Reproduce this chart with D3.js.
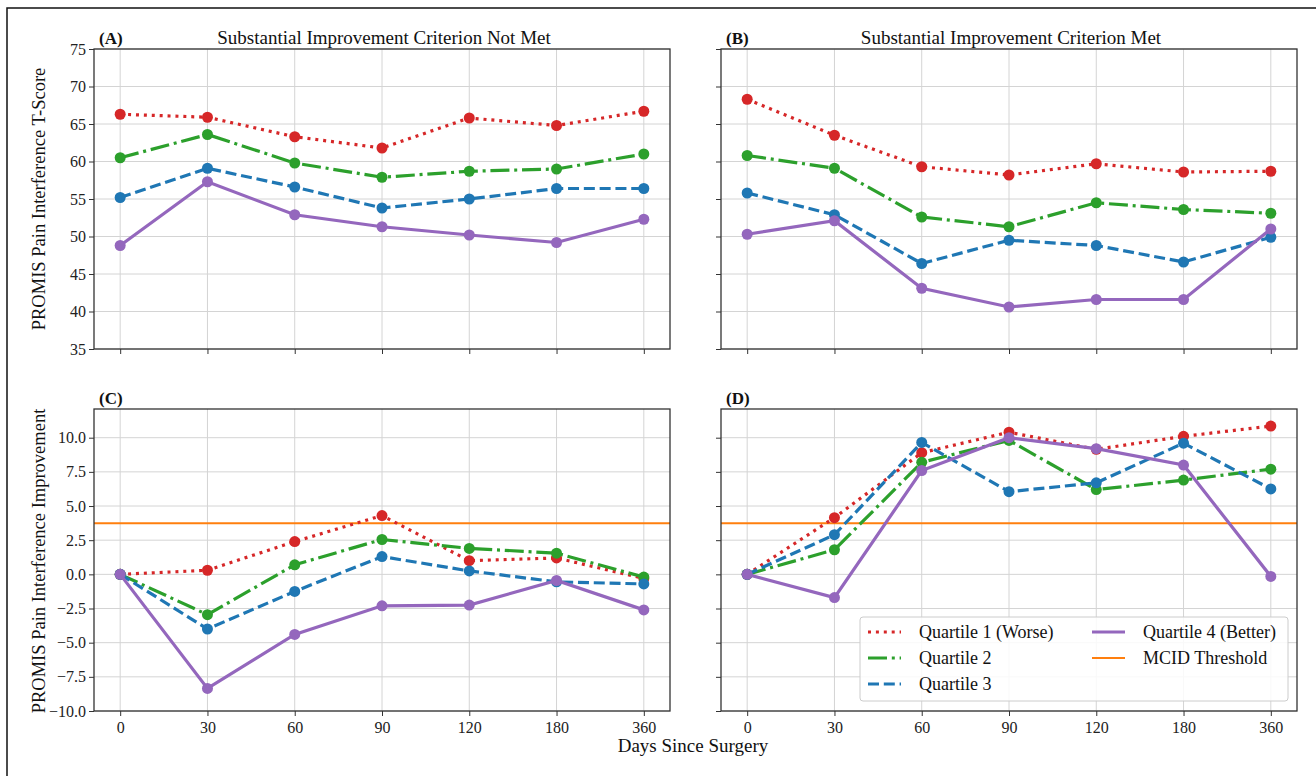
<!DOCTYPE html>
<html>
<head>
<meta charset="utf-8">
<script src="https://cdn.jsdelivr.net/npm/d3@7"></script>
<style>
  body { margin: 0; background: #fff; }
  svg { font-family: "Liberation Serif", "DejaVu Serif", serif; }
  .grid line { stroke: #d4d4d4; stroke-width: 1; }
</style>
</head>
<body>
<svg id="fig" width="1316" height="776"></svg>
<script>
// days after surgery (evenly spaced categories)
var days = ["0", "30", "60", "90", "120", "180", "360"];
var quartiles = ["Quartile 1 (Worse)", "Quartile 2", "Quartile 3", "Quartile 4 (Better)"];

// (A) T-score, criterion not met
var notMetQ1 = [66.3, 65.9, 63.3, 61.8, 65.8, 64.8, 66.7];
var notMetQ2 = [60.5, 63.6, 59.8, 57.9, 58.7, 59.0, 61.0];
var notMetQ3 = [55.2, 59.1, 56.6, 53.8, 55.0, 56.4, 56.4];
var notMetQ4 = [48.8, 57.3, 52.9, 51.3, 50.2, 49.2, 52.3];

// (B) T-score, criterion met
var metQ1 = [68.3, 63.5, 59.3, 58.2, 59.7, 58.6, 58.7];
var metQ2 = [60.8, 59.1, 52.6, 51.3, 54.5, 53.6, 53.1];
var metQ3 = [55.8, 52.9, 46.4, 49.5, 48.8, 46.6, 49.9];
var metQ4 = [50.3, 52.1, 43.1, 40.6, 41.6, 41.6, 51.0];

// (C) improvement, criterion not met
var notMetImpQ1 = [0, 0.3, 2.4, 4.3, 1.0, 1.2, -0.3];
var notMetImpQ2 = [0, -2.95, 0.7, 2.55, 1.9, 1.55, -0.2];
var notMetImpQ3 = [0, -4.0, -1.25, 1.3, 0.25, -0.55, -0.7];
var notMetImpQ4 = [0, -8.35, -4.4, -2.3, -2.25, -0.45, -2.6];

// (D) improvement, criterion met
var metImpQ1 = [0, 4.15, 8.9, 10.4, 9.15, 10.1, 10.85];
var metImpQ2 = [0, 1.8, 8.2, 9.8, 6.2, 6.9, 7.7];
var metImpQ3 = [0, 2.9, 9.65, 6.05, 6.7, 9.6, 6.25];
var metImpQ4 = [0, -1.7, 7.6, 10.0, 9.2, 8.0, -0.15];

var mcid = 3.74;

var tScoreTicks = [35, 40, 45, 50, 55, 60, 65, 70, 75];
var improvementTicks = [-10, -7.5, -5, -2.5, 0, 2.5, 5, 7.5, 10];

var colors = ["#d62728", "#2ca02c", "#1f77b4", "#9467bd"];
var dashes = ["3,4.9", "19,4.8,3,4.8", "11,4.8", null];
var mcidColor = "#ff7f0e";
var serif = "'Liberation Serif', 'DejaVu Serif', serif";

var svg = d3.select("#fig");

// outer frame of the figure
svg.append("path")
  .attr("d", "M7,780V8H1320")
  .attr("fill", "none")
  .attr("stroke", "#111")
  .attr("stroke-width", 1.5);

function panel(opt) {
  var x = d3.scalePoint().domain(days).range([opt.left, opt.right]).padding(0.3);
  var y = d3.scaleLinear().domain(opt.yDomain).range([opt.bottom, opt.top]);
  var g = svg.append("g");

  // grid
  g.append("g").attr("class", "grid")
    .selectAll("line.v").data(days).enter().append("line")
      .attr("x1", function(d) { return x(d); }).attr("x2", function(d) { return x(d); })
      .attr("y1", opt.top).attr("y2", opt.bottom);
  g.append("g").attr("class", "grid")
    .selectAll("line.h").data(opt.ticks).enter().append("line")
      .attr("x1", opt.left).attr("x2", opt.right)
      .attr("y1", function(d) { return y(d); }).attr("y2", function(d) { return y(d); });

  if (opt.mcid != null) {
    g.append("line")
      .attr("x1", opt.left).attr("x2", opt.right)
      .attr("y1", y(opt.mcid)).attr("y2", y(opt.mcid))
      .attr("stroke", mcidColor).attr("stroke-width", 2);
  }

  var line = d3.line()
    .x(function(d, i) { return x(days[i]); })
    .y(function(d) { return y(d); });

  opt.series.forEach(function(s, k) {
    g.append("path").datum(s)
      .attr("d", line)
      .attr("fill", "none")
      .attr("stroke", colors[k])
      .attr("stroke-width", 3.2)
      .attr("stroke-dasharray", dashes[k]);
    g.selectAll("circle.q" + k).data(s).enter().append("circle")
      .attr("class", "q" + k)
      .attr("cx", function(d, i) { return x(days[i]); })
      .attr("cy", function(d) { return y(d); })
      .attr("r", 5.5)
      .attr("fill", colors[k]);
  });

  // axes
  var xAxis = d3.axisBottom(x).tickSize(5).tickSizeOuter(0);
  if (!opt.xLabels) xAxis.tickFormat("");
  var gx = g.append("g")
    .attr("transform", "translate(0," + opt.bottom + ")")
    .call(xAxis)
    .attr("font-family", serif).attr("font-size", 16);
  gx.select(".domain").remove();
  gx.selectAll(".tick line").attr("stroke", "#333");
  gx.selectAll(".tick text").attr("dy", "0.85em").attr("fill", "#222");

  var yAxis = d3.axisLeft(y).tickValues(opt.ticks).tickSize(5).tickFormat(opt.fmt);
  if (!opt.yLabels) yAxis.tickFormat("");
  var gy = g.append("g")
    .attr("transform", "translate(" + opt.left + ",0)")
    .call(yAxis)
    .attr("font-family", serif).attr("font-size", 16);
  gy.select(".domain").remove();
  gy.selectAll(".tick line").attr("stroke", "#333");
  gy.selectAll(".tick text").attr("fill", "#222");

  g.append("rect")
    .attr("x", opt.left).attr("y", opt.top)
    .attr("width", opt.right - opt.left).attr("height", opt.bottom - opt.top)
    .attr("fill", "none").attr("stroke", "#333").attr("stroke-width", 1.3);

  g.append("text")
    .attr("x", opt.left + 5).attr("y", opt.top - 5)
    .attr("font-size", 17).attr("font-weight", "bold").attr("fill", "#111")
    .text(opt.tag);

  if (opt.title) {
    g.append("text")
      .attr("x", (opt.left + opt.right) / 2 + 2).attr("y", opt.top - 5)
      .attr("text-anchor", "middle").attr("font-size", 19).attr("fill", "#111")
      .text(opt.title);
  }
  return { x: x, y: y, g: g };
}

var fmtInt = d3.format("d");
var fmt1 = d3.format(".1f");

panel({ left: 94, right: 670, top: 49, bottom: 349, yDomain: [35, 75], ticks: tScoreTicks, fmt: fmtInt,
  series: [notMetQ1, notMetQ2, notMetQ3, notMetQ4], tag: "(A)",
  title: "Substantial Improvement Criterion Not Met", xLabels: false, yLabels: true });
panel({ left: 721, right: 1297, top: 49, bottom: 349, yDomain: [35, 75], ticks: tScoreTicks, fmt: fmtInt,
  series: [metQ1, metQ2, metQ3, metQ4], tag: "(B)",
  title: "Substantial Improvement Criterion Met", xLabels: false, yLabels: false });
panel({ left: 94, right: 670, top: 409, bottom: 711, yDomain: [-10, 12.1], ticks: improvementTicks, fmt: fmt1,
  series: [notMetImpQ1, notMetImpQ2, notMetImpQ3, notMetImpQ4], tag: "(C)", mcid: mcid,
  xLabels: true, yLabels: true });
panel({ left: 721, right: 1297, top: 409, bottom: 711, yDomain: [-10, 12.1], ticks: improvementTicks, fmt: fmt1,
  series: [metImpQ1, metImpQ2, metImpQ3, metImpQ4], tag: "(D)", mcid: mcid,
  xLabels: true, yLabels: false });

// axis titles
svg.append("text")
  .attr("transform", "translate(45,199) rotate(-90)")
  .attr("text-anchor", "middle").attr("font-size", 18.5).attr("fill", "#111")
  .text("PROMIS Pain Interference T-Score");
svg.append("text")
  .attr("transform", "translate(45,561) rotate(-90)")
  .attr("text-anchor", "middle").attr("font-size", 18.5).attr("fill", "#111")
  .text("PROMIS Pain Interference Improvement");
svg.append("text")
  .attr("x", 693).attr("y", 752)
  .attr("text-anchor", "middle").attr("font-size", 19).attr("fill", "#111")
  .text("Days Since Surgery");

// legend in panel D
var legend = svg.append("g").attr("transform", "translate(860,617)");
legend.append("rect")
  .attr("width", 428).attr("height", 84).attr("rx", 3)
  .attr("fill", "#fff").attr("fill-opacity", 0.85)
  .attr("stroke", "#ccc");
var legendItems = quartiles.map(function(q, i) {
  return { label: q, color: colors[i], dash: dashes[i], width: 3.2 };
});
legendItems.push({ label: "MCID Threshold", color: mcidColor, dash: null, width: 2 });
var legendPos = [[0, 0], [0, 1], [0, 2], [1, 0], [1, 1]];
legendItems.forEach(function(d, i) {
  var cx = legendPos[i][0] === 0 ? 8 : 232;
  var cy = 15 + legendPos[i][1] * 26;
  legend.append("line")
    .attr("x1", cx).attr("x2", cx + 33)
    .attr("y1", cy).attr("y2", cy)
    .attr("stroke", d.color).attr("stroke-width", d.width)
    .attr("stroke-dasharray", d.dash);
  legend.append("text")
    .attr("x", cx + 51).attr("y", cy).attr("dy", "0.35em")
    .attr("font-size", 18).attr("fill", "#111")
    .text(d.label);
});
</script>
</body>
</html>
